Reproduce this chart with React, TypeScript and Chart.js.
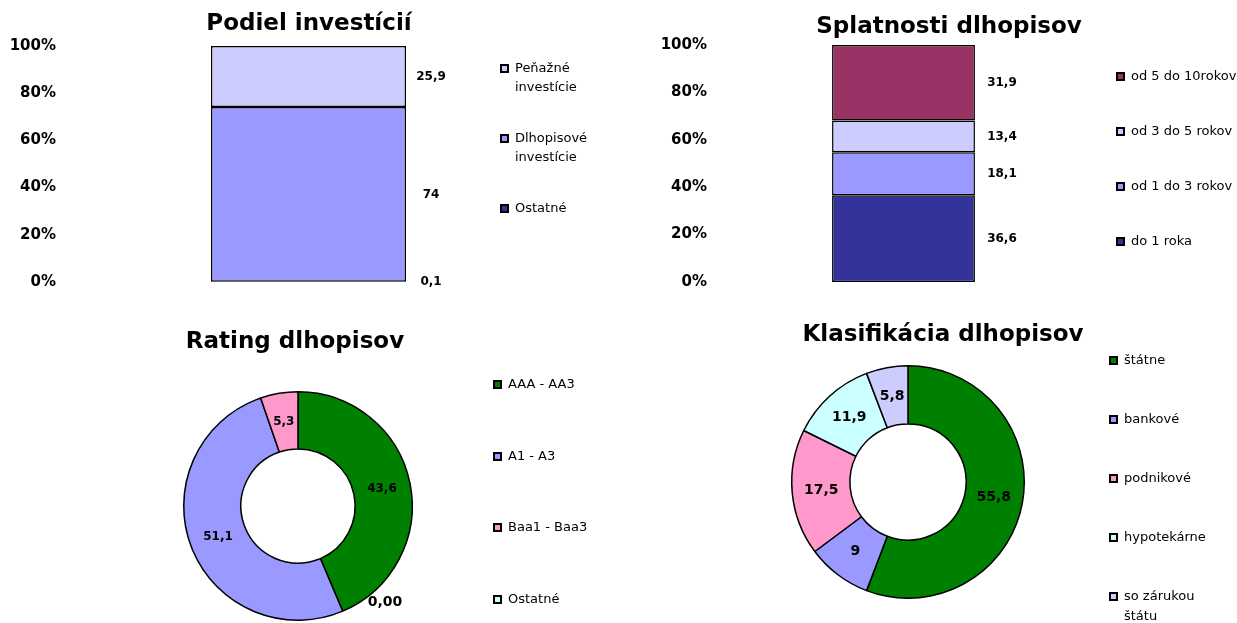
import React, { useEffect, useRef } from "react";
import { Chart, registerables } from "chart.js";

Chart.register(...registerables);
const FONT = '"DejaVu Sans", Verdana, sans-serif';
Chart.defaults.font.family = FONT;
Chart.defaults.color = "#000";

// ---- Data ----
const percentTicks = [0, 20, 40, 60, 80, 100];

const investTitle = "Podiel investícií";
const investSeries = ["Ostatné", "Dlhopisové investície", "Peňažné investície"];
const investValues = [0.1, 74, 25.9];
const investColors = ["#333399", "#9999ff", "#ccccff"];

const maturityTitle = "Splatnosti dlhopisov";
const maturitySeries = ["do 1 roka", "od 1 do 3 rokov", "od 3 do 5 rokov", "od 5 do 10rokov"];
const maturityValues = [36.6, 18.1, 13.4, 31.9];
const maturityColors = ["#333399", "#9999ff", "#ccccff", "#993366"];

const ratingTitle = "Rating dlhopisov";
const ratingLabels = ["AAA - AA3", "Ostatné", "A1 - A3", "Baa1 - Baa3"];
const ratingValues = [43.6, 0, 51.1, 5.3];
const ratingColors = ["#008000", "#ccffff", "#9999ff", "#ff99cc"];
const ratingLegendOrder = [0, 2, 3, 1];

const classTitle = "Klasifikácia dlhopisov";
const classLabels = ["štátne", "bankové", "podnikové", "hypotekárne", "so zárukou štátu"];
const classValues = [55.8, 9, 17.5, 11.9, 5.8];
const classColors = ["#008000", "#9999ff", "#ff99cc", "#ccffff", "#ccccff"];

const fmt = (v: number) => (v === 0 ? v.toFixed(2) : String(v)).replace(".", ",");

type Deco = {
  title: { text: string; x: number; y: number; size: number };
  legend: {
    x: number;
    y: number;
    spacing: number;
    lineHeight: number;
    maxWidth: number;
    items: { text: string; color: string }[];
  };
  labels: { kind: "bar" | "arc"; dx: number; size: number; zeroSize: number };
};

function wrap(ctx: CanvasRenderingContext2D, text: string, maxWidth: number) {
  const words = text.split(" ");
  const lines: string[] = [];
  let cur = "";
  for (const w of words) {
    const t = cur ? cur + " " + w : w;
    if (cur && ctx.measureText(t).width > maxWidth) {
      lines.push(cur);
      cur = w;
    } else cur = t;
  }
  if (cur) lines.push(cur);
  return lines;
}

function decoPlugin(d: Deco) {
  return {
    id: "deco",
    afterDatasetsDraw(chart: any) {
      const ctx: CanvasRenderingContext2D = chart.ctx;
      ctx.save();
      ctx.fillStyle = "#000";
      ctx.textBaseline = "middle";
      if (d.labels.kind === "bar") {
        chart.data.datasets.forEach((ds: any, i: number) => {
          const meta = chart.getDatasetMeta(i);
          meta.data.forEach((el: any, j: number) => {
            const p = el.getProps(["x", "y", "base", "width"], true);
            ctx.font = `bold ${d.labels.size}px ${FONT}`;
            ctx.textAlign = "center";
            ctx.fillText(fmt(ds.data[j]), p.x + p.width / 2 + d.labels.dx, (p.y + p.base) / 2);
          });
        });
      } else {
        const ds = chart.data.datasets[0];
        const meta = chart.getDatasetMeta(0);
        meta.data.forEach((el: any, j: number) => {
          const v = ds.data[j];
          if (v === 0) {
            const p = el.getProps(["x", "y", "startAngle", "outerRadius"], true);
            ctx.font = `bold ${d.labels.zeroSize}px ${FONT}`;
            ctx.textAlign = "left";
            ctx.fillText(
              fmt(v),
              p.x + Math.cos(p.startAngle) * p.outerRadius + 25,
              p.y + Math.sin(p.startAngle) * p.outerRadius - 9
            );
          } else {
            const c = el.tooltipPosition(true);
            ctx.font = `bold ${d.labels.size}px ${FONT}`;
            ctx.textAlign = "center";
            ctx.fillText(fmt(v), c.x, c.y);
          }
        });
      }
      // title
      ctx.font = `bold ${d.title.size}px ${FONT}`;
      ctx.textAlign = "center";
      ctx.fillText(d.title.text, d.title.x, d.title.y);
      // legend
      const L = d.legend;
      ctx.font = `13px ${FONT}`;
      ctx.textAlign = "left";
      L.items.forEach((it, i) => {
        const y = Math.round(L.y + i * L.spacing);
        ctx.fillStyle = "#000";
        ctx.fillRect(L.x, y - 5, 9, 9);
        ctx.fillStyle = it.color;
        ctx.fillRect(L.x + 2, y - 3, 5, 5);
        ctx.fillStyle = "#000";
        wrap(ctx, it.text, L.maxWidth).forEach((ln, k) => {
          ctx.fillText(ln, L.x + 15, y + k * L.lineHeight);
        });
      });
      ctx.restore();
    },
  };
}

function barConfig(
  series: string[],
  values: number[],
  colors: string[],
  axisWidth: number,
  padRight: number,
  barPct: number,
  padTop: number,
  padBottom: number,
  deco: Deco
) {
  return {
    type: "bar",
    data: {
      labels: [""],
      datasets: series.map((s, i) => ({
        label: s,
        data: [values[i]],
        backgroundColor: colors[i],
        borderColor: "#000",
        borderWidth: 1.5,
        borderSkipped: false,
        barPercentage: barPct,
        categoryPercentage: 1,
      })),
    },
    options: {
      animation: false,
      responsive: false,
      layout: { padding: { top: padTop, bottom: padBottom, left: 0, right: padRight } },
      plugins: { legend: { display: false }, title: { display: false }, tooltip: { enabled: false } },
      scales: {
        x: { stacked: true, display: false },
        y: {
          stacked: true,
          min: 0,
          max: 100,
          grid: { display: false },
          border: { display: false },
          afterBuildTicks: (s: any) => {
            s.ticks = percentTicks.map((v) => ({ value: v }));
          },
          afterFit: (s: any) => {
            s.width = axisWidth;
          },
          ticks: {
            padding: 0,
            color: "#000",
            font: { size: 15, weight: "bold" },
            callback: (v: any) => v + "%",
          },
        },
      },
    },
    plugins: [decoPlugin(deco)],
  };
}

function donutConfig(
  labels: string[],
  values: number[],
  colors: string[],
  pad: { left: number; right: number; top: number; bottom: number },
  deco: Deco
) {
  return {
    type: "doughnut",
    data: {
      labels,
      datasets: [
        {
          data: values,
          backgroundColor: colors,
          borderColor: "#000",
          borderWidth: 1.5,
        },
      ],
    },
    options: {
      animation: false,
      responsive: false,
      cutout: "50%",
      layout: { padding: pad },
      plugins: { legend: { display: false }, title: { display: false }, tooltip: { enabled: false } },
    },
    plugins: [decoPlugin(deco)],
  };
}

function Panel({ left, top, width, height, build }: any) {
  const ref = useRef<HTMLCanvasElement>(null);
  useEffect(() => {
    const chart = new Chart(ref.current as HTMLCanvasElement, build());
    return () => chart.destroy();
  }, []);
  return (
    <canvas
      ref={ref}
      width={width}
      height={height}
      style={{ position: "absolute", left, top, width, height }}
    />
  );
}

export default function App() {
  return (
    <div style={{ position: "absolute", left: 0, top: 0, width: 1237, height: 623, background: "#fff" }}>
      <Panel
        left={0}
        top={0}
        width={620}
        height={300}
        build={() =>
          barConfig(investSeries, investValues, investColors, 64, 67, 0.399, 46, 18, {
            title: { text: investTitle, x: 309, y: 24, size: 23 },
            legend: {
              x: 500,
              y: 69,
              spacing: 70,
              lineHeight: 19,
              maxWidth: 90,
              items: investSeries.map((s, i) => ({ text: s, color: investColors[i] })).reverse(),
            },
            labels: { kind: "bar", dx: 25, size: 12, zeroSize: 12 },
          })
        }
      />
      <Panel
        left={620}
        top={0}
        width={617}
        height={300}
        build={() =>
          barConfig(maturitySeries, maturityValues, maturityColors, 95, 145, 0.379, 45, 18, {
            title: { text: maturityTitle, x: 329, y: 27, size: 23 },
            legend: {
              x: 496,
              y: 77,
              spacing: 55,
              lineHeight: 19,
              maxWidth: 200,
              items: maturitySeries.map((s, i) => ({ text: s, color: maturityColors[i] })).reverse(),
            },
            labels: { kind: "bar", dx: 27, size: 12, zeroSize: 12 },
          })
        }
      />
      <Panel
        left={150}
        top={310}
        width={470}
        height={313}
        build={() =>
          donutConfig(ratingLabels, ratingValues, ratingColors, { left: 33, right: 207, top: 81, bottom: 2 }, {
            title: { text: ratingTitle, x: 145, y: 32, size: 23 },
            legend: {
              x: 343,
              y: 75,
              spacing: 71.5,
              lineHeight: 19,
              maxWidth: 120,
              items: ratingLegendOrder.map((i) => ({ text: ratingLabels[i], color: ratingColors[i] })),
            },
            labels: { kind: "arc", dx: 0, size: 12, zeroSize: 14 },
          })
        }
      />
      <Panel
        left={760}
        top={310}
        width={477}
        height={313}
        build={() =>
          donutConfig(classLabels, classValues, classColors, { left: 31, right: 212, top: 55, bottom: 24 }, {
            title: { text: classTitle, x: 183, y: 25, size: 23 },
            legend: {
              x: 349,
              y: 51,
              spacing: 59,
              lineHeight: 20,
              maxWidth: 95,
              items: classLabels.map((s, i) => ({ text: s, color: classColors[i] })),
            },
            labels: { kind: "arc", dx: 0, size: 14, zeroSize: 14 },
          })
        }
      />
    </div>
  );
}
